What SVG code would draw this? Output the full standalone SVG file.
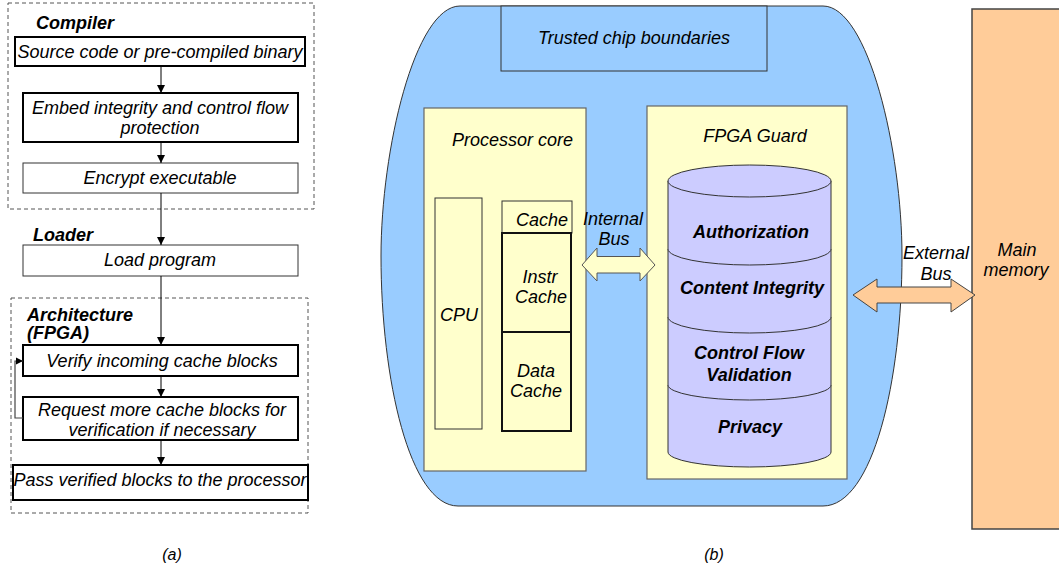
<svg xmlns="http://www.w3.org/2000/svg" width="1059" height="569" viewBox="0 0 1059 569">
  <defs>
    <marker id="arrow" viewBox="0 0 10 10" refX="10" refY="5" markerWidth="8" markerHeight="9" markerUnits="userSpaceOnUse" orient="auto">
      <path d="M0,0 L10,5 L0,10 z" fill="#000"/>
    </marker>
    <marker id="arrow-small" viewBox="0 0 10 10" refX="10" refY="5" markerWidth="7" markerHeight="8" markerUnits="userSpaceOnUse" orient="auto">
      <path d="M0,0 L10,5 L0,10 z" fill="#000"/>
    </marker>
  </defs>
  <style>
    text { font-family: "Liberation Sans", Arial, sans-serif; font-style: italic; font-size: 18px; fill: #000; }
    .c { text-anchor: middle; }
    .b { font-weight: bold; }
    .cap { font-size: 16px; }
    .group { fill: none; stroke: #555; stroke-width: 1; stroke-dasharray: 4 3; }
    .step { fill: #fff; stroke: #000; stroke-width: 2; }
    .step-thin { fill: #fff; stroke: #333; stroke-width: 1; }
    .flow { fill: none; stroke: #000; stroke-width: 1; }
    .loop { fill: none; stroke: #444; stroke-width: 1.2; }
    .chip { fill: #99CCFF; stroke: #333; stroke-width: 1; }
    .panel { fill: #FFFFCC; stroke: #666; stroke-width: 1.2; }
    .unit { fill: #FFFFCC; stroke: #333; stroke-width: 1; }
    .unit-thick { fill: #FFFFCC; stroke: #111; stroke-width: 2; }
    .drum { fill: #CCCCFF; stroke: #333; stroke-width: 1; }
    .bus-int { fill: #FFFFCC; stroke: #555; stroke-width: 1; }
    .bus-ext { fill: #FFCC99; stroke: #444; stroke-width: 1; }
    .mem { fill: #FFCC99; stroke: #444; stroke-width: 1.5; }
  </style>

  <!-- (a) software / hardware flow -->
  <g id="compiler-stage">
    <rect class="group" x="8" y="3" width="306" height="206"/>
    <text class="b" x="36" y="29">Compiler</text>
  </g>
  <g id="source">
    <rect class="step" x="15" y="37" width="290" height="29"/>
    <text class="c" x="160" y="58">Source code or pre-compiled binary</text>
  </g>
  <g id="embed">
    <rect class="step" x="23" y="93" width="275" height="49"/>
    <text class="c" x="160" y="114">Embed integrity and control flow</text>
    <text class="c" x="160" y="134">protection</text>
  </g>
  <g id="encrypt">
    <rect class="step-thin" x="23" y="163" width="275" height="30"/>
    <text class="c" x="160" y="184">Encrypt executable</text>
  </g>
  <g id="loader">
    <text class="b" x="33" y="241">Loader</text>
    <rect class="step-thin" x="23" y="245" width="275" height="31"/>
    <text class="c" x="160" y="266">Load program</text>
  </g>
  <g id="architecture-stage">
    <rect class="group" x="11" y="298" width="297" height="215"/>
    <text class="b" x="27" y="321">Architecture</text>
    <text class="b" x="27" y="339">(FPGA)</text>
  </g>
  <g id="verify">
    <rect class="step" x="23" y="345" width="275" height="31"/>
    <text class="c" x="162" y="367">Verify incoming cache blocks</text>
  </g>
  <g id="request">
    <rect class="step" x="23" y="397" width="275" height="43"/>
    <text class="c" x="162" y="416">Request more cache blocks for</text>
    <text class="c" x="162" y="436">verification if necessary</text>
  </g>
  <g id="pass">
    <rect class="step" x="13" y="465" width="295" height="35"/>
    <text class="c" x="160" y="486">Pass verified blocks to the processor</text>
  </g>

  <!-- (b) trusted chip -->
  <g id="chip">
    <path class="chip" d="M460,6 H823 C868,6 902,150 902,256 C902,380 873,506 823,506 H458 C410,506 381,380 381,256 C381,150 415,6 460,6 Z"/>
    <rect class="chip" x="501" y="6" width="266" height="65"/>
    <text class="c" x="634" y="44">Trusted chip boundaries</text>
  </g>
  <g id="processor-core">
    <rect class="panel" x="424" y="108" width="162" height="363"/>
    <text x="452" y="146">Processor core</text>
  </g>
  <g id="cpu">
    <rect class="unit" x="435" y="198" width="47" height="231"/>
    <text class="c" x="459" y="321">CPU</text>
  </g>
  <g id="cache">
    <rect class="unit" x="502" y="201" width="70" height="32"/>
    <text class="c" x="542" y="226">Cache</text>
  </g>
  <g id="instr-cache">
    <rect class="unit-thick" x="502" y="233" width="69" height="99"/>
    <text class="c" x="540" y="283">Instr</text>
    <text class="c" x="541" y="303">Cache</text>
  </g>
  <g id="data-cache">
    <rect class="unit-thick" x="502" y="332" width="69" height="99"/>
    <text class="c" x="536" y="377">Data</text>
    <text class="c" x="536" y="397">Cache</text>
  </g>
  <g id="fpga-guard">
    <rect class="panel" x="647" y="106" width="200" height="373"/>
    <text class="c" x="755" y="142">FPGA Guard</text>
  </g>
  <g id="guard-stack">
    <path class="drum" d="M668,181 V452 A81.5,15 0 0 0 831,452 V181 Z"/>
    <ellipse class="drum" cx="749.5" cy="181" rx="81.5" ry="16"/>
    <path class="drum" fill="none" d="M668,249 A81.5,16 0 0 0 831,249"/>
    <path class="drum" fill="none" d="M668,317 A81.5,16 0 0 0 831,317"/>
    <path class="drum" fill="none" d="M668,385 A81.5,15 0 0 0 831,385"/>
    <text class="c b" x="751" y="238">Authorization</text>
    <text class="c b" x="752" y="294">Content Integrity</text>
    <text class="c b" x="749" y="359">Control Flow</text>
    <text class="c b" x="749" y="381">Validation</text>
    <text class="c b" x="750" y="433">Privacy</text>
  </g>
  <g id="main-memory">
    <rect class="mem" x="972" y="9" width="95" height="520"/>
    <text class="c" x="1017" y="256">Main</text>
    <text class="c" x="1016" y="276">memory</text>
  </g>

  <g id="connectors">
    <path class="flow" d="M161,66 V93" marker-end="url(#arrow)"/>
    <path class="flow" d="M161,142 V163" marker-end="url(#arrow)"/>
    <path class="flow" d="M161,193 V245" marker-end="url(#arrow)"/>
    <path class="flow" d="M161,276 V345" marker-end="url(#arrow)"/>
    <path class="flow" d="M161,376 V397" marker-end="url(#arrow)"/>
    <path class="flow" d="M161,440 V465" marker-end="url(#arrow)"/>
    <path class="loop" d="M23,418 H15 V361 H23" marker-end="url(#arrow-small)"/>

    <polygon class="bus-int" points="582,265 597,248 597,256.5 640,256.5 640,248 655,265 640,281 640,273 597,273 597,281"/>
    <text class="c" x="613" y="225">Internal</text>
    <text class="c" x="614" y="245">Bus</text>

    <polygon class="bus-ext" points="853,295 877,279 877,287 951,287 951,279 975,295 951,312 951,303 877,303 877,312"/>
    <text class="c" x="936" y="259">External</text>
    <text class="c" x="936" y="280">Bus</text>
  </g>

  <text class="c cap" x="172" y="560">(a)</text>
  <text class="c cap" x="714" y="560">(b)</text>
</svg>
